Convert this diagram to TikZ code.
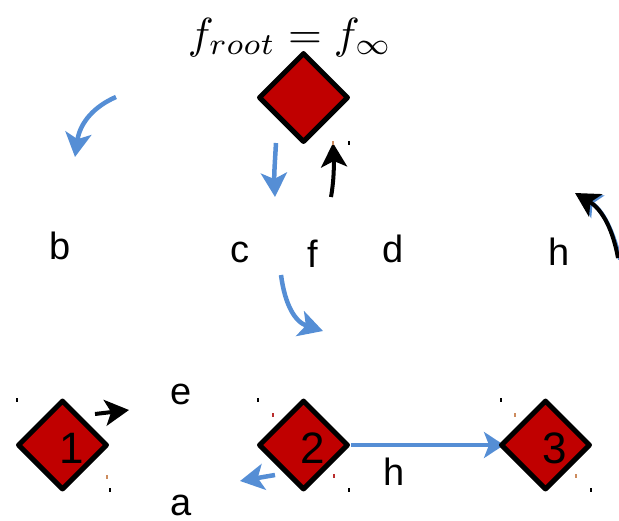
\documentclass[tikz,border=0pt]{standalone}
\usepackage{graphicx}
\usepackage{fontspec}
\setmainfont{Liberation Sans}
\usetikzlibrary{arrows.meta,shapes.geometric}
\pgfdeclarelayer{background}
\pgfsetlayers{background,main}
\definecolor{nodered}{RGB}{192,0,0}
\definecolor{arrowblue}{RGB}{85,142,213}
\definecolor{tickorange}{RGB}{205,140,95}
\definecolor{tickred}{RGB}{185,45,45}

\begin{document}
\begin{tikzpicture}[x=1pt,y=-1pt,
  vertex/.style={diamond, draw=black, fill=nodered, line width=5pt, line join=round,
    minimum width=90pt, minimum height=90pt, inner sep=0pt},
  lbl/.style={font=\fontsize{38}{40}\selectfont, inner sep=0pt, anchor=base},
  num/.style={font=\fontsize{44}{46}\selectfont, inner sep=0pt, anchor=base},
  headtip/.style={-{Stealth[length=24pt,width=26pt,inset=6pt]}},
  bluearrow/.style={draw=arrowblue, line width=4.5pt, headtip},
  blackarrow/.style={draw=black, line width=4pt, headtip},
  tick/.style={line width=1.2pt}
]
\useasboundingbox (0,0) rectangle (619,520);

% title
\node[inner sep=0pt, anchor=base] (title) at (290,48)
  {\scalebox{4.35}{$f_{root} = f_{\infty}$}};

% diamonds
\node[vertex] (r)  at (303.5,97.5) {};
\node[vertex] (n1) at (62.5,445) {};
\node[vertex] (n2) at (303.5,445) {};
\node[vertex] (n3) at (545.5,445) {};

% numbers
\node[num] (t1) at (72,463) {1};
\node[num] (t2) at (313,463) {2};
\node[num] (t3) at (555,463) {3};

% letters
\node[lbl] (lb) at (60,259) {b};
\node[lbl] (lc) at (240,262) {c};
\node[lbl] (lf) at (313,267) {f};
\node[lbl] (ld) at (393,262) {d};
\node[lbl] (lh1) at (559,265) {h};
\node[lbl] (le) at (181,404) {e};
\node[lbl] (la) at (181,515) {a};
\node[lbl] (lh2) at (394,485) {h};

% free ends of the loose arrows
\coordinate (a1s) at (116,97);   \coordinate (a1e) at (75,157);
\coordinate (a2s) at (276,143);  \coordinate (a2e) at (275,197);
\coordinate (a3s) at (331,197);  \coordinate (a3e) at (333,143);
\coordinate (a4s) at (618,258);  \coordinate (a4e) at (575,193);
\coordinate (a5s) at (281,275);  \coordinate (a5e) at (323,331);
\coordinate (a6s) at (95,414);   \coordinate (a6e) at (129,410);
\coordinate (a7s) at (275,475);  \coordinate (a7e) at (240,481);

% loose arrows
\draw[bluearrow] (a1s) .. controls (95,106) and (80,122) .. (a1e);
\draw[bluearrow] (a2s) .. controls (275,160) and (274,175) .. (a2e);
\draw[blackarrow] (a3s) .. controls (334,180) and (334,165) .. (a3e);
\draw[bluearrow, line width=4pt] ([shift={(2,1.5)}]a4s) .. controls (612,225) and (600,208) .. ([shift={(2,1.5)}]a4e);
\draw[blackarrow] (a4s) .. controls (612,225) and (600,208) .. (a4e);
\draw[bluearrow] (a5s) .. controls (285,305) and (295,322) .. (a5e);
\draw[blackarrow] (a6s) -- (a6e);
\draw[bluearrow] (a7s) -- (a7e);

% connector 2 -> 3
\begin{pgfonlayer}{background}
\draw[draw=arrowblue, line width=3.5pt, -{Stealth[length=20pt,width=26pt,inset=5pt]},
  shorten >=-6pt] (n2.east) -- (n3.west);
\end{pgfonlayer}

% small marks
\draw[tick] (349,141) -- ++(0,4);
\draw[tick, tickorange] (333,141) -- ++(0,4);
\draw[tick] (17,398) -- ++(0,4);
\draw[tick, tickorange] (107,475) -- ++(0,4);
\draw[tick] (110,488) -- ++(0,4);
\draw[tick] (258,398) -- ++(0,4);
\draw[tick, tickred] (273,413) -- ++(0,4);
\draw[tick, tickred] (334,474) -- ++(0,4);
\draw[tick] (349,488) -- ++(0,4);
\draw[tick] (501,398) -- ++(0,4);
\draw[tick, tickorange] (515,413) -- ++(0,4);
\draw[tick, tickorange] (576,474) -- ++(0,4);
\draw[tick] (591,488) -- ++(0,4);
\end{tikzpicture}
\end{document}
